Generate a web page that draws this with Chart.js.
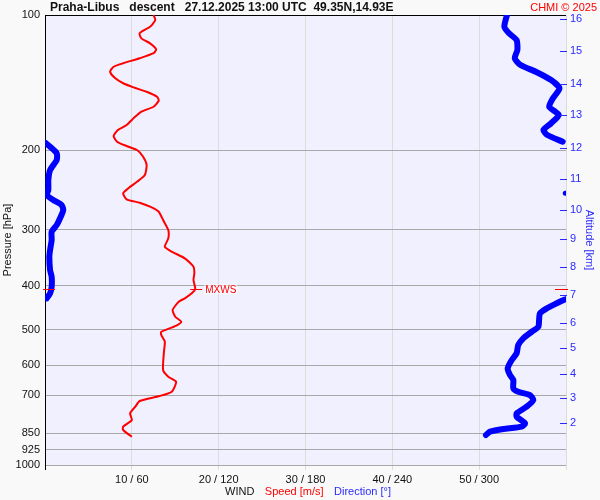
<!DOCTYPE html>
<html>
<head>
<meta charset="utf-8">
<script src="https://cdn.jsdelivr.net/npm/chart.js@4"></script>
<style>
  html, body { margin: 0; padding: 0; background: #f9f9f9; }
</style>
</head>
<body>
<canvas id="wind" width="600" height="500"></canvas>
<script>
// ## data ##########################################################################
const titleText = 'Praha-Libus   descent   27.12.2025 13:00 UTC  49.35N,14.93E';

// pressure axis (hPa), log scale
const pressureTicks = [100, 200, 300, 400, 500, 600, 700, 850, 925, 1000];

// altitude axis: km labels and the pressure level they sit at
const altKm = [2, 3, 4, 5, 6, 7, 8, 9, 10, 11, 12, 13, 14, 15, 16];
const altP  = [805, 711, 628, 550, 483, 419, 363, 315, 271, 231, 197, 167, 142, 120, 102];

// wind speed profile (m/s) vs pressure (hPa), top to bottom
const speedP = [100, 102.6, 106.2, 109.8, 112.7, 115.6, 119.2, 121.6, 124.8, 128.0,
  130.3, 133.7, 138.3, 141.8, 144.8, 148.1, 151.9, 155.0, 159.9, 164.0,
  169.6, 175.6, 180.1, 185.7, 191.2, 195.5, 199.5, 206.5, 215.4, 226.8,
  234.7, 242.7, 249.0, 256.8, 261.3, 266.7, 273.6, 285.5, 300.6, 313.6,
  327.4, 335.7, 347.3, 362.5, 375.0, 388.1, 406.2, 415.4, 426.2, 433.7,
  452.5, 468.3, 480.4, 491.1, 505.7, 514.3, 532.1, 560.1, 615.1, 636.5,
  653.0, 687.3, 702.6, 720.8, 742.1, 767.6, 794.3, 822.0, 836.0, 865.2];
const speedMs = [12.5, 12.7, 12.1, 10.9, 11.1, 12.1, 12.8, 12.5, 10.9, 9.0,
  7.9, 7.5, 8.1, 9.0, 10.2, 11.7, 12.9, 13.1, 12.5, 11.1,
  10.2, 9.4, 8.4, 7.9, 8.3, 9.4, 10.6, 11.3, 11.7, 11.5,
  10.6, 9.6, 9.0, 9.4, 10.9, 12.1, 13.1, 13.6, 14.2, 14.2,
  13.8, 14.6, 16.1, 17.1, 17.2, 17.1, 17.3, 16.9, 16.1, 15.4,
  14.7, 15.0, 15.7, 15.0, 13.4, 13.4, 13.8, 13.7, 13.6, 14.2,
  15.1, 14.6, 13.2, 10.9, 10.4, 9.8, 10.0, 9.0, 9.0, 10.0];

// wind direction (deg) vs pressure, null = break where it wraps 360 -> 0
const dirP = [100, 106.2, 109.8, 113.7, 119.6, 124.8, 129.2, 133.7, 139.5, 145.5,
  153.1, 159.9, 166.8, 174.0, 180.1, 184.8, 191.2, null,
  192.2, 196.2, 202.9, 210.0, 221.1, 232.6, 244.8, 251.2, 257.7, 264.4,
  271.3, 283.0, 292.9, 303.2, 316.2, 333.0, 344.4, 368.7, 381.6, 401.6,
  415.4, 426.2, null,
  249.0, null,
  428.4, 437.2, 448.6, 460.2, 476.3, 492.9, 505.7, 523.0, 541.2, 564.7,
  584.3, 609.7, 631.0, 647.3, 675.4, 687.3, 699.0, 717.1, 742.1, 767.6,
  781.1, 807.9, 822.0, 831.8, 843.3, 857.7];
const dirDeg = [319.2, 317.4, 320.6, 325.9, 326.4, 324.6, 328.6, 339.1, 349.7, 355.5,
  351.0, 348.4, 355.0, 349.7, 344.4, 347.1, 357.7, null,
  0, 3.5, 8.1, 8.1, 3.5, 2.3, 2.3, 1.2, 5.7, 11.5,
  12.6, 10.4, 8.1, 4.6, 4.6, 3.5, 3.0, 3.5, 4.6, 4.6,
  3.5, 1.2, null,
  359.5, null,
  359.3, 353.6, 346.7, 342.0, 341.4, 340.9, 336.3, 330.5, 327.0, 325.9,
  322.5, 319.7, 321.3, 323.6, 323.6, 327.0, 335.1, 337.4, 332.8, 325.9,
  325.9, 331.7, 329.4, 316.7, 307.5, 304.7];

// bottom caption pieces
const captionParts = ['WIND', 'Speed [m/s]', 'Direction [°]'];

// ## styles ##########################################################################
const FONT = '"Liberation Sans", Arial, sans-serif';
const RED = '#ff0000';
const BLUE = '#0000ff';
const BLUE_TXT = '#2a2aff';
const INK = '#111111';
const captionColors = [INK, RED, BLUE_TXT];

Chart.defaults.font.family = FONT;
Chart.defaults.font.size = 11;
Chart.defaults.color = INK;

const speedData = speedMs.map((s, i) => ({ x: s, y: speedP[i] }));
const dirData = dirDeg.map((d, i) => ({ x: d, y: d == null ? null : dirP[i] }));

// max wind speed level
const mxIdx = speedMs.indexOf(Math.max(...speedMs));

/** backgrounds: page + lavender plot area */
const bgPlugin = {
  id: 'bg',
  beforeDraw(chart) {
    const { ctx, chartArea: a } = chart;
    ctx.save();
    ctx.fillStyle = '#f9f9f9';
    ctx.fillRect(0, 0, chart.width, chart.height);
    ctx.fillStyle = '#f0f0ff';
    ctx.fillRect(a.left, a.top, a.right - a.left, a.bottom - a.top);
    ctx.restore();
  }
};

/** header, caption, altitude tick marks, MXWS marker */
const decoPlugin = {
  id: 'deco',
  afterDraw(chart) {
    const { ctx, chartArea: a, scales } = chart;
    ctx.save();
    ctx.textBaseline = 'middle';

    ctx.font = 'bold 12px ' + FONT;
    ctx.fillStyle = INK;
    ctx.textAlign = 'left';
    ctx.fillText(titleText, 50, 8);

    ctx.font = '11px ' + FONT;
    ctx.fillStyle = RED;
    ctx.textAlign = 'right';
    ctx.fillText('CHMI © 2025', 597, 8);

    // caption row
    ctx.textAlign = 'left';
    let cx = 225;
    captionParts.forEach((t, i) => {
      ctx.fillStyle = captionColors[i];
      ctx.fillText(t, cx, 492);
      cx += ctx.measureText(t).width + 10.5;
    });

    // altitude tick marks
    ctx.strokeStyle = BLUE_TXT;
    ctx.lineWidth = 1;
    altP.forEach(p => {
      const y = Math.round(scales.y2.getPixelForValue(p)) + 0.5;
      ctx.beginPath();
      ctx.moveTo(a.right - 6, y);
      ctx.lineTo(a.right + 1, y);
      ctx.stroke();
    });

    // MXWS
    const my = Math.round(scales.y.getPixelForValue(speedP[mxIdx])) + 0.5;
    const mx = scales.x.getPixelForValue(speedMs[mxIdx]);
    ctx.strokeStyle = RED;
    ctx.beginPath();
    ctx.moveTo(a.left - 2, my); ctx.lineTo(a.left + 10, my);
    ctx.moveTo(mx - 5, my); ctx.lineTo(mx + 7, my);
    ctx.moveTo(a.right - 11, my); ctx.lineTo(a.right + 2, my);
    ctx.stroke();
    ctx.font = '10px ' + FONT;
    const tw = ctx.measureText('MXWS').width;
    ctx.fillStyle = 'rgba(255,255,255,0.6)';
    ctx.fillRect(mx + 9, my - 5, tw + 2, 10);
    ctx.fillStyle = RED;
    ctx.fillText('MXWS', mx + 10, my + 0.5);
    ctx.restore();
  }
};

// ## chart ##########################################################################
new Chart(document.getElementById('wind'), {
  type: 'line',
  data: {
    datasets: [
      {
        label: 'Direction',
        data: dirData,
        xAxisID: 'xDir',
        yAxisID: 'y',
        borderColor: BLUE,
        backgroundColor: BLUE,
        borderWidth: 6,
        borderCapStyle: 'round',
        borderJoinStyle: 'round',
        tension: 0.2,
        spanGaps: false,
        // lone samples show as dots
        pointRadius: c => (dirDeg[c.dataIndex - 1] == null && dirDeg[c.dataIndex + 1] == null) ? 2.5 : 0,
        pointBorderWidth: 0
      },
      {
        label: 'Speed',
        data: speedData,
        xAxisID: 'x',
        yAxisID: 'y',
        borderColor: RED,
        borderWidth: 2,
        tension: 0.2,
        pointRadius: 0
      }
    ]
  },
  options: {
    responsive: false,
    animation: false,
    layout: { padding: { top: 15, left: 0, right: 0, bottom: 0 } },
    plugins: { legend: { display: false }, tooltip: { enabled: false } },
    scales: {
      x: {
        type: 'linear', position: 'bottom', min: 0, max: 60,
        afterFit: s => { s.height = 35; },
        ticks: {
          stepSize: 10, autoSkip: false, maxRotation: 0, padding: 3,
          callback: v => (v > 0 && v < 60) ? `${v} / ${v * 6}` : ''
        },
        grid: { color: c => (c.tick && c.tick.value === 0) ? '#000' : '#dcdcdc', tickLength: 5 },
        border: { display: false }
      },
      xDir: { type: 'linear', min: 0, max: 360, display: false },
      y: {
        type: 'logarithmic', position: 'left', min: 100, max: 1000, reverse: true,
        afterBuildTicks: s => { s.ticks = pressureTicks.map(v => ({ value: v })); },
        afterFit: s => { s.width = 45; },
        ticks: { autoSkip: false, padding: 5, callback: v => String(v) },
        grid: { color: c => (c.tick && c.tick.value === 100) ? '#000' : '#a8a8a8', drawTicks: false },
        border: { display: true, color: '#000' },
        title: { display: true, text: 'Pressure [hPa]', padding: 1 }
      },
      y2: {
        type: 'logarithmic', position: 'right', min: 100, max: 1000, reverse: true,
        afterBuildTicks: s => { s.ticks = altP.map(v => ({ value: v })); },
        afterFit: s => { s.width = 34; },
        ticks: { autoSkip: false, padding: 4, color: BLUE_TXT, callback: (v, i) => String(altKm[i]) },
        grid: { display: false, drawTicks: false },
        border: { display: false },
        title: { display: true, text: 'Altitude [km]', color: BLUE_TXT, padding: 4 }
      }
    }
  },
  plugins: [bgPlugin, decoPlugin]
});
</script>
</body>
</html>
